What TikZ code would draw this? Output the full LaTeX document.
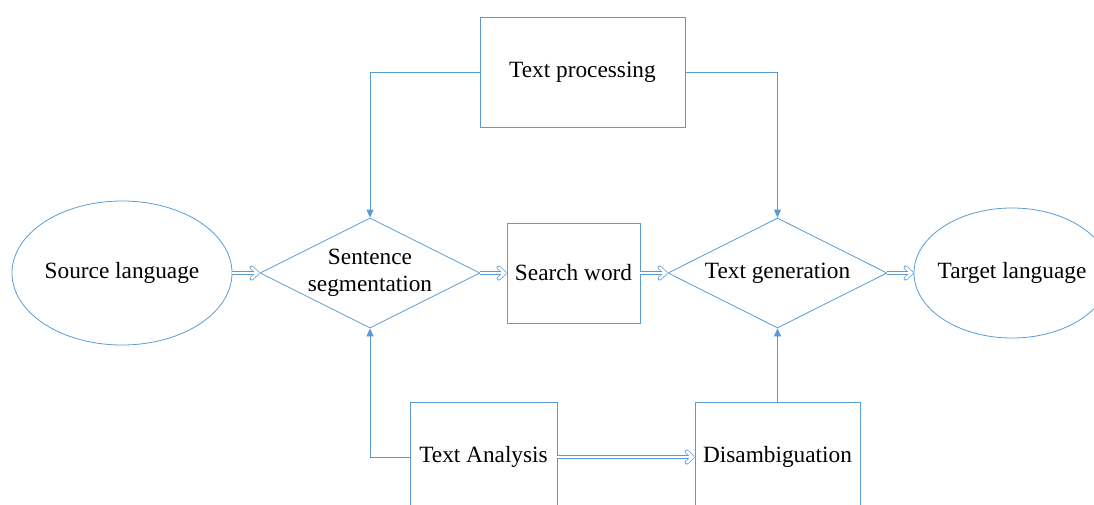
\documentclass[tikz,border=0pt]{standalone}
\usepackage{fontspec}
\setmainfont{Liberation Serif}
\usetikzlibrary{shapes.geometric,arrows.meta}
\definecolor{ln}{HTML}{5B9BD5}
\begin{document}
\begin{tikzpicture}[x=1pt,y=-1pt,
  every node/.style={font=\fontsize{23.3}{27}\selectfont, text=black},
  shp/.style={draw=ln, line width=0.8pt, inner sep=0pt, align=center},
  bx/.style={shp, rectangle},
  el/.style={shp, ellipse},
  dm/.style={shp, diamond, aspect=2},
  dbl/.style={draw=ln, line width=0.7pt, double=white, double distance=2.6pt, shorten >=1.5pt},
  tip/.style={draw=ln, line width=4pt, line join=round, line cap=round},
  tipin/.style={draw=white, line width=2.6pt, line join=round, line cap=round},
  sgl/.style={draw=ln, line width=0.8pt, -{Triangle[length=8pt,width=7pt]}}]
\useasboundingbox (0,0) rectangle (1094,504);
\clip (0,0) rectangle (1094,504);
\node[el, minimum width=220pt, minimum height=144pt, inner xsep=-4pt] (src) at (122,273) {Source language};
\node[dm, minimum width=220pt, minimum height=110pt] (seg) at (370,273) {Sentence\\segmentation};
\node[bx, minimum width=133pt, minimum height=100pt] (sw) at (573.5,273) {Search word};
\node[dm, minimum width=219pt, minimum height=110pt] (gen) at (777.5,273) {Text generation};
\node[el, minimum width=196pt, minimum height=130pt, inner xsep=-14pt] (tgt) at (1012,273) {Target language};
\node[bx, minimum width=205pt, minimum height=110pt] (tp) at (582.5,72) {Text processing};
\node[bx, minimum width=147pt, minimum height=110pt] (ta) at (483.5,457) {Text Analysis};
\node[bx, minimum width=165pt, minimum height=110pt] (dis) at (777.5,457) {Disambiguation};
\foreach \a/\b in {src/seg, seg/sw, sw/gen, gen/tgt, ta/dis}{
  \draw[dbl] (\a.east) -- (\b.west);
  \draw[tip] ([shift={(-8,-5.5)}]\b.west) -- ([shift={(-2,0)}]\b.west) -- ([shift={(-8,5.5)}]\b.west);
  \draw[tipin] ([shift={(-8,-5.5)}]\b.west) -- ([shift={(-2,0)}]\b.west) -- ([shift={(-8,5.5)}]\b.west);
  \draw[draw=white, line width=2.6pt] ([shift={(-9,0)}]\b.west) -- ([shift={(-3.2,0)}]\b.west);
}
\draw[sgl] (tp.west) -| (seg.north);
\draw[sgl] (tp.east) -| (gen.north);
\draw[sgl] (ta.west) -| (seg.south);
\draw[sgl] (dis.north) -- (gen.south);
\end{tikzpicture}
\end{document}
